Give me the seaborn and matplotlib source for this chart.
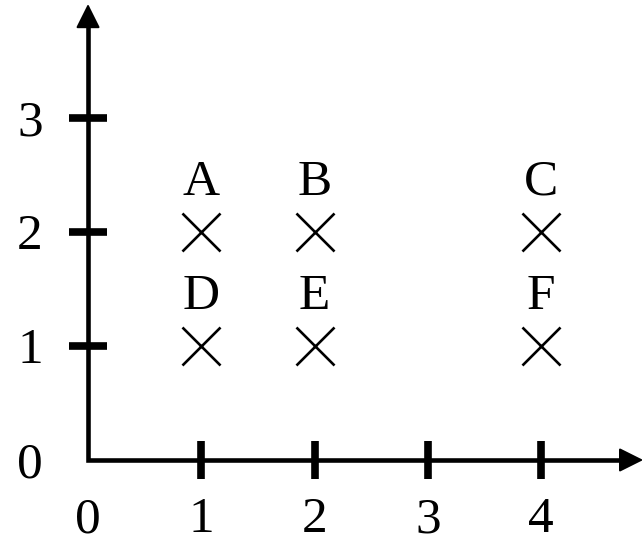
import matplotlib
matplotlib.use("Agg")
import matplotlib.pyplot as plt
import seaborn as sns

sns.set_style("white")
plt.rcParams["font.family"] = ["Liberation Serif", "DejaVu Serif"]
plt.rcParams["text.color"] = "black"

# points and their labels
labels = ["A", "B", "C", "D", "E", "F"]
xs = [1, 2, 4, 1, 2, 4]
ys = [2, 2, 2, 1, 1, 1]

# tick positions and tick label text
x_ticks = [1, 2, 3, 4]
y_ticks = [1, 2, 3]
x_tick_labels = ["0", "1", "2", "3", "4"]
y_tick_labels = ["0", "1", "2", "3"]

fig = plt.figure(figsize=(6.44, 5.44), dpi=100)
ax = fig.add_axes([0, 0, 1, 1])
ax.set_xlim(-0.777, 4.907)
ax.set_ylim(-0.737, 4.035)
ax.axis("off")

# axes: one joined corner, arrow heads only at the far ends
ax.plot([0, 0, 4.8], [3.9, 0, 0], color="black", lw=3.3,
        solid_joinstyle="miter", solid_capstyle="butt")
arrow = dict(arrowstyle="-|>,head_length=0.5,head_width=0.25", lw=1.5,
             color="black", mutation_scale=30, shrinkA=0, shrinkB=0)
ax.annotate("", xy=(4.9, 0), xytext=(4.74, 0), arrowprops=arrow)
ax.annotate("", xy=(0, 4.0), xytext=(0, 3.84), arrowprops=arrow)

# tick marks crossing the axes
ax.plot(x_ticks, [0] * len(x_ticks), ls="none", marker="|", ms=27,
        mew=5.5, color="black")
ax.plot([0] * len(y_ticks), y_ticks, ls="none", marker="_", ms=27,
        mew=5.5, color="black")

# tick labels
for i, t in enumerate(x_tick_labels):
    ax.text(i, -0.635, t, ha="center", va="baseline", fontsize=37)
for i, t in enumerate(y_tick_labels):
    ax.text(-0.512, i - 0.15, t, ha="center", va="baseline", fontsize=37)

# crosses and their letters
sns.scatterplot(x=xs, y=ys, marker="x", s=750, color="black",
                linewidth=1.9, ax=ax, legend=False)
for x, y, lab in zip(xs, ys, labels):
    ax.text(x, y + 0.325, lab, ha="center", va="baseline", fontsize=37)

fig.savefig("out.png", dpi=100)
